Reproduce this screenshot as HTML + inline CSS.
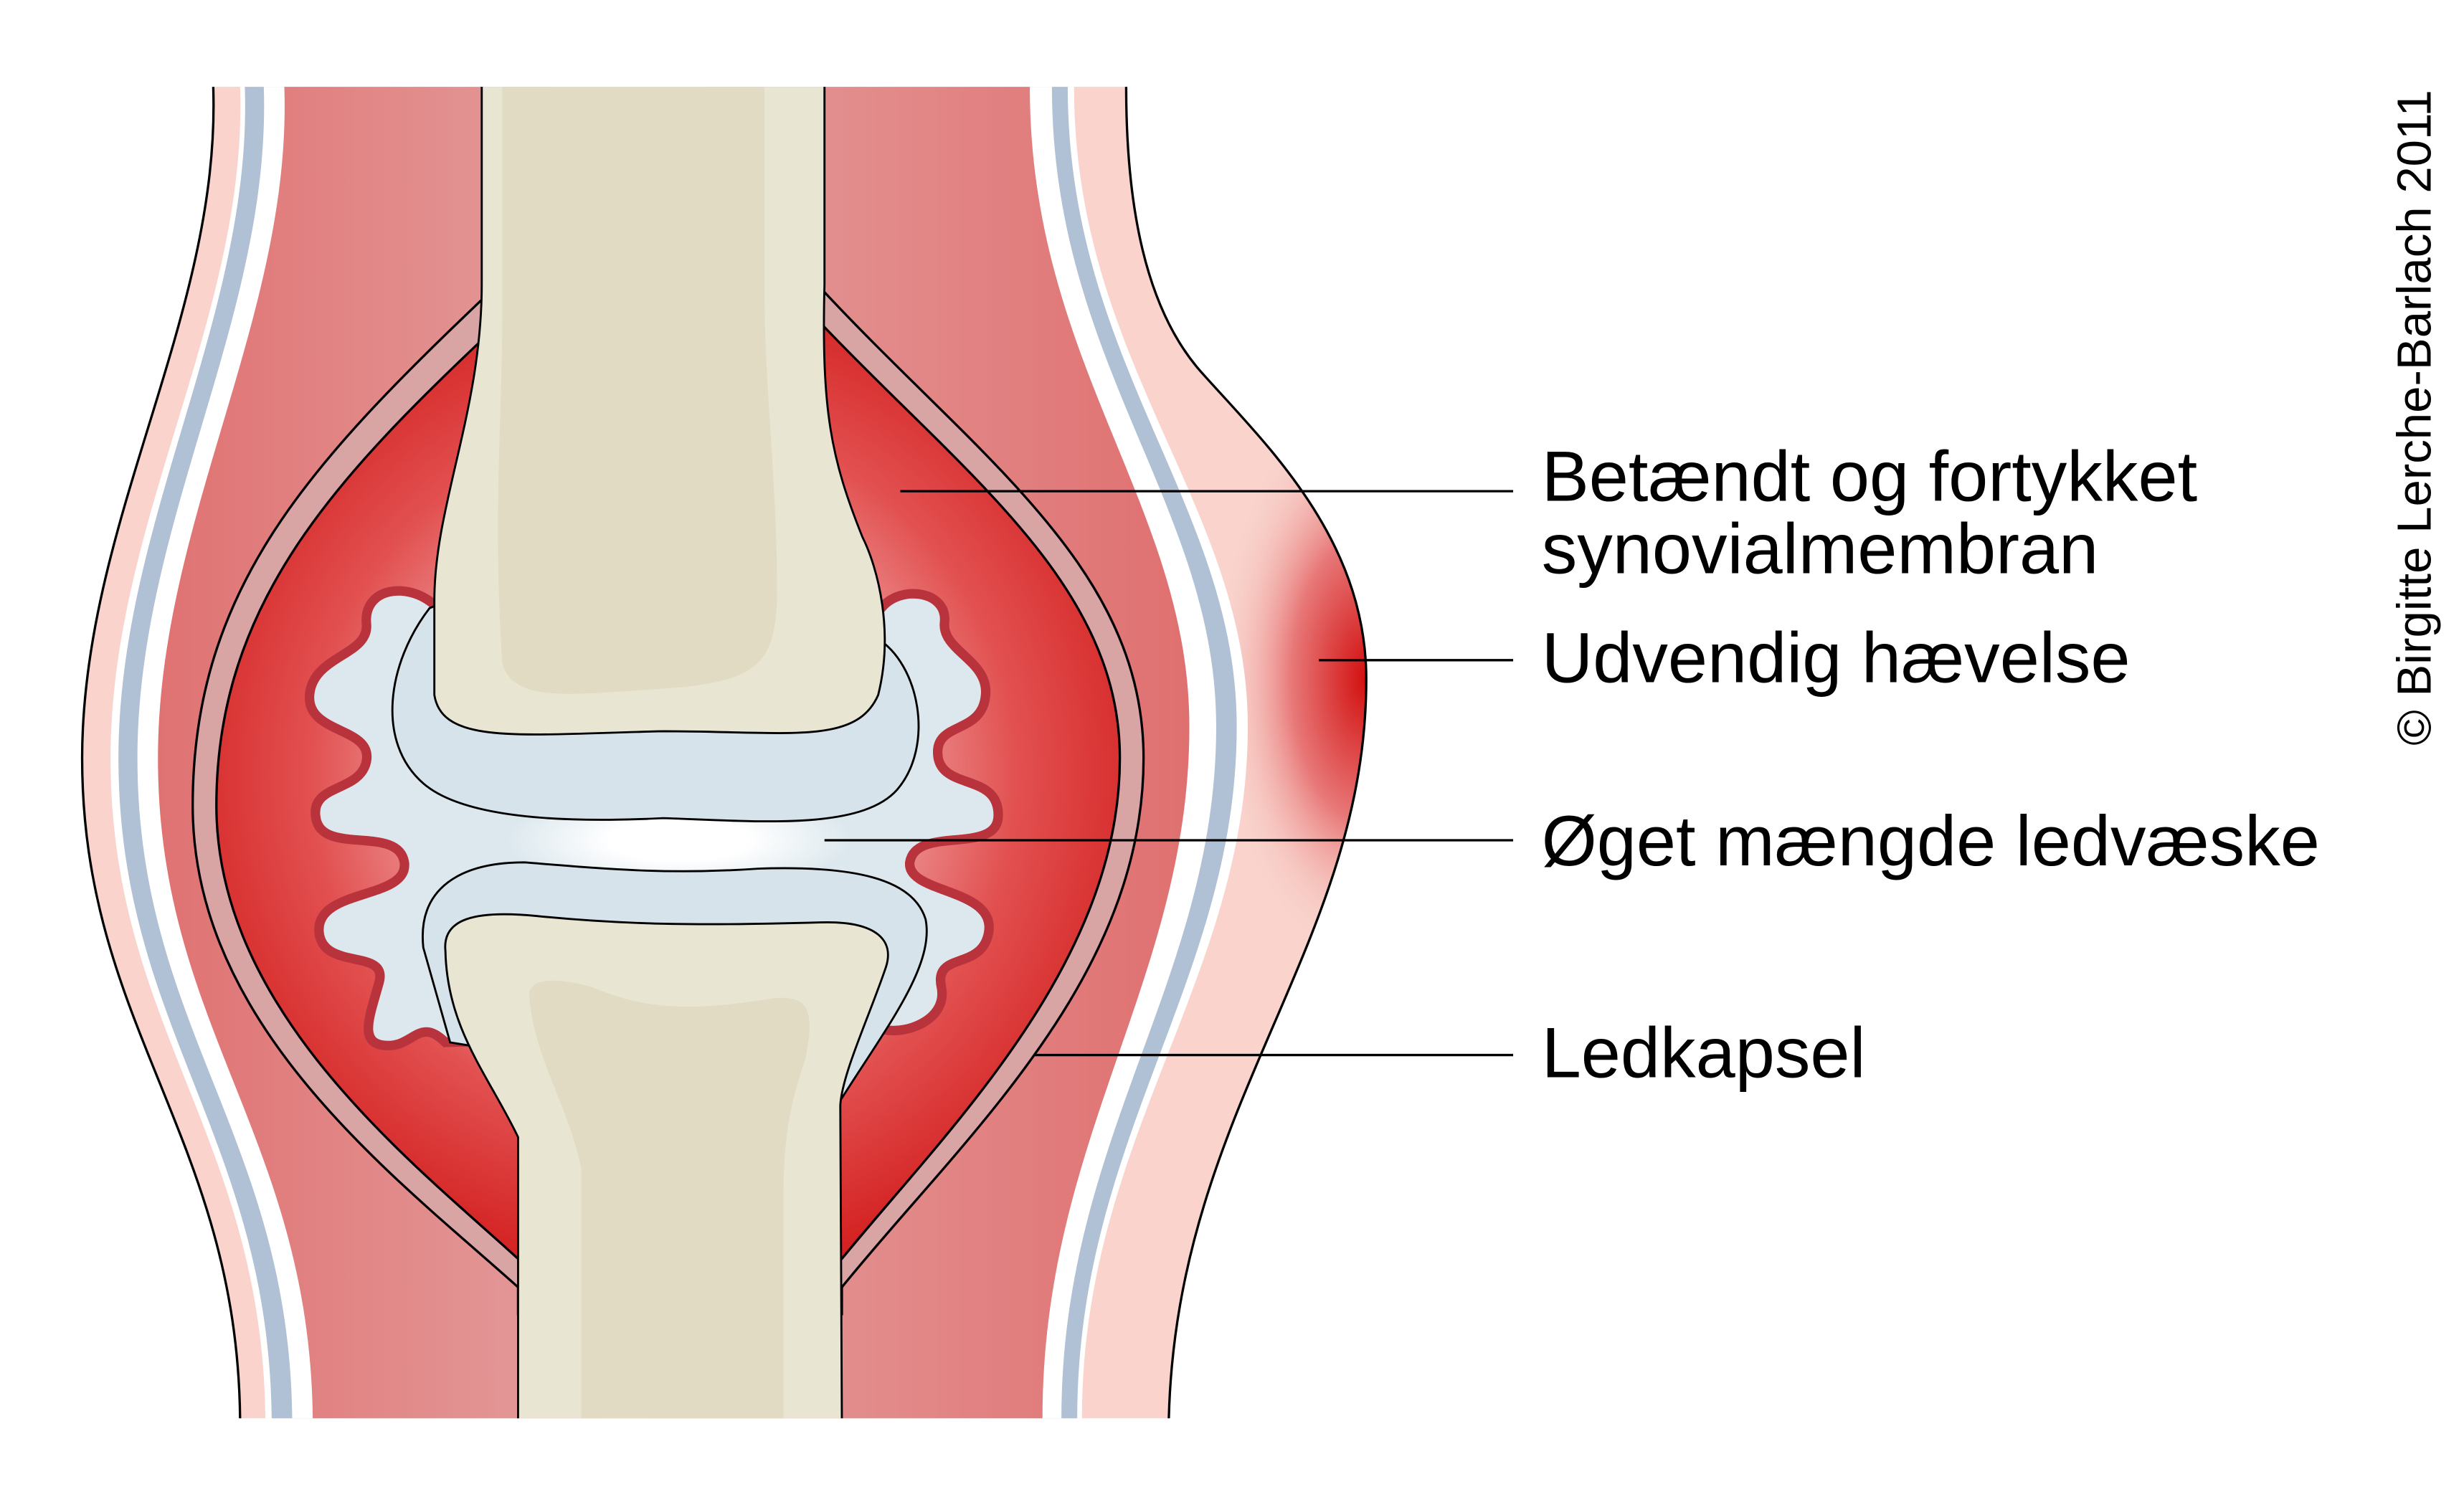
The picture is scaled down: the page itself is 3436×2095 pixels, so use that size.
<!DOCTYPE html>
<html><head><meta charset="utf-8"><style>html,body{margin:0;padding:0;background:#fff}svg{display:block}</style></head>
<body>
<svg width="3436" height="2095" viewBox="0 0 1560 951" preserveAspectRatio="none" xmlns="http://www.w3.org/2000/svg">
<defs>
<linearGradient id="mus" x1="0" x2="1" y1="0" y2="0">
<stop offset="0" stop-color="#e07272"/><stop offset="0.45" stop-color="#e4a0a0"/><stop offset="1" stop-color="#e07070"/>
</linearGradient>
<radialGradient id="cap" cx="420" cy="490" r="320" gradientUnits="userSpaceOnUse">
<stop offset="0.25" stop-color="#f6d0d0"/><stop offset="0.7" stop-color="#e25050"/><stop offset="1" stop-color="#d42222"/>
</radialGradient>
<radialGradient id="sw" cx="865" cy="430" r="95" gradientTransform="translate(865 430) scale(1 1.9) translate(-865 -430)" gradientUnits="userSpaceOnUse">
<stop offset="0" stop-color="#d20f0f"/><stop offset="0.5" stop-color="#e87878"/><stop offset="1" stop-color="#f9d3cc" stop-opacity="0"/>
</radialGradient>
<radialGradient id="gap" cx="430" cy="532" r="110" gradientTransform="translate(430 532) scale(1 0.3) translate(-430 -532)" gradientUnits="userSpaceOnUse">
<stop offset="0.4" stop-color="#ffffff"/><stop offset="1" stop-color="#dce8ee"/>
</radialGradient>
<clipPath id="skinclip"><path d="M135,55 C140,200 52,330 52,480 C52,650 150,720 152,898 L740,898 C745,700 865,600 865,430 C865,340 800,280 760,235 C725,195 713,130 713,55 Z"/></clipPath>
</defs>
<rect width="1560" height="951" fill="#fff"/>
<path d="M135,55 C140,200 52,330 52,480 C52,650 150,720 152,898 L740,898 C745,700 865,600 865,430 C865,340 800,280 760,235 C725,195 713,130 713,55 Z" fill="#f9d3cc"/>
<ellipse cx="865" cy="430" rx="95" ry="190" fill="url(#sw)" clip-path="url(#skinclip)"/>
<path d="M135,55 C140,200 52,330 52,480 C52,650 150,720 152,898" fill="none" stroke="#000" stroke-width="1.5"/>
<path d="M740,898 C745,700 865,600 865,430 C865,340 800,280 760,235 C725,195 713,130 713,55" fill="none" stroke="#000" stroke-width="1.5"/>
<path d="M152,55 C157,200 70,330 70,480 C70,650 166,720 168,898 L685,898 C685,720 790,620 790,460 C790,320 680,230 680,55 Z" fill="#fff"/>
<path d="M155,55 C160,200 75,330 75,480 C75,650 170,720 172,898 L682,898 C682,720 783,620 783,460 C783,320 676,230 676,55 Z" fill="#b0c0d5"/>
<path d="M167,55 C172,200 87,330 87,480 C87,650 183,720 185,898 L672,898 C672,720 770,620 770,460 C770,320 666,230 666,55 Z" fill="#fff"/>
<path d="M180,55 C185,200 100,330 100,480 C100,650 196,720 198,898 L660,898 C660,720 753,620 753,460 C753,320 652,230 652,55 Z" fill="url(#mus)"/>
<path d="M310,185 C200,290 122,370 122,510 C122,650 250,745 328,815 L328,832 L533,832 L533,815 C610,720 724,620 724,480 C724,360 620,290 522,185 Z" fill="#d9a4a4" stroke="#000" stroke-width="1.5"/>
<path d="M316,205 C215,300 137,380 137,510 C137,640 260,735 328,797 L533,797 C600,715 709,610 709,480 C709,370 610,300 520,205 Z" fill="url(#cap)" stroke="#000" stroke-width="1.5"/>
<path d="M275,383 C258,368 230,372 232,395 C234,415 198,415 196,440 C194,465 236,460 232,482 C228,502 196,496 200,518 C204,542 252,522 256,546 C259,570 200,562 202,590 C204,615 246,600 240,622 C234,644 226,662 246,662 C262,662 266,644 282,660 L560,652 C575,655 600,645 596,625 C591,602 622,615 626,590 C630,562 574,566 576,546 C580,522 632,542 632,516 C632,490 598,500 594,480 C590,456 622,466 624,440 C626,418 596,412 598,394 C600,374 570,370 558,385 Z" fill="#dce8ee" stroke="#b8333c" stroke-width="6"/>
<ellipse cx="430" cy="532" rx="120" ry="26" fill="url(#gap)"/>
<path d="M272,385 C245,420 238,470 268,496 C298,522 380,520 420,518 C480,520 545,526 568,500 C592,472 582,420 555,404 L540,380 L285,380 Z" fill="#d6e3ea" stroke="#000" stroke-width="1.3"/>
<!-- upper bone -->
<path d="M305,55 L305,180 C305,260 275,320 275,380 L275,440 C280,472 330,465 420,463 C500,463 542,472 556,440 C566,400 556,360 546,340 C526,290 520,260 522,180 L522,55 Z" fill="#e8e5d3"/>
<path d="M305,55 L305,180 C305,260 275,320 275,380 L275,440 C280,472 330,465 420,463 C500,463 542,472 556,440 C566,400 556,360 546,340 C526,290 520,260 522,180 L522,55" fill="none" stroke="#000" stroke-width="1.3"/>
<path d="M318,55 L318,200 C318,260 312,330 318,420 C325,445 360,440 420,436 C480,432 490,420 492,380 C492,300 484,250 484,180 L484,55 Z" fill="#e0dbc2"/>
<path d="M268,600 C264,562 292,546 332,546 C382,550 422,554 480,550 C540,548 578,556 586,582 C592,612 560,652 530,700 L285,660 Z" fill="#d6e3ea" stroke="#000" stroke-width="1.3"/>
<!-- lower bone -->
<path d="M282,602 C280,582 300,576 340,580 C400,586 450,586 520,584 C556,583 566,596 561,612 C551,642 533,680 532,700 L533,898 L328,898 L328,720 C310,682 283,652 282,602 Z" fill="#e8e5d3"/>
<path d="M533,898 L532,700 C533,680 551,642 561,612 C566,596 556,583 520,584 C450,586 400,586 340,580 C300,576 280,582 282,602 C283,652 310,682 328,720 L328,898" fill="none" stroke="#000" stroke-width="1.3"/>
<path d="M335,630 C335,620 350,618 375,625 C410,640 440,640 490,632 C512,630 516,640 510,670 C500,700 496,720 496,760 L496,898 L368,898 L368,740 C360,700 338,670 335,630 Z" fill="#e0dbc2"/>
<g stroke="#000" stroke-width="1.5">
<line x1="570" y1="311" x2="958" y2="311"/>
<line x1="835" y1="418" x2="958" y2="418"/>
<line x1="522" y1="532" x2="958" y2="532"/>
<line x1="655" y1="668" x2="958" y2="668"/>
</g>
<g font-family="Liberation Sans, sans-serif" font-size="45" fill="#000">
<text x="976" y="317">Betændt og fortykket</text>
<text x="976" y="363">synovialmembran</text>
<text x="976" y="432">Udvendig hævelse</text>
<text x="976" y="548">Øget mængde ledvæske</text>
<text x="976" y="682">Ledkapsel</text>
</g>
<text transform="translate(1539,472) rotate(-90)" font-family="Liberation Sans, sans-serif" font-size="30.5" fill="#000">© Birgitte Lerche-Barlach 2011</text>
</svg>
</body></html>
